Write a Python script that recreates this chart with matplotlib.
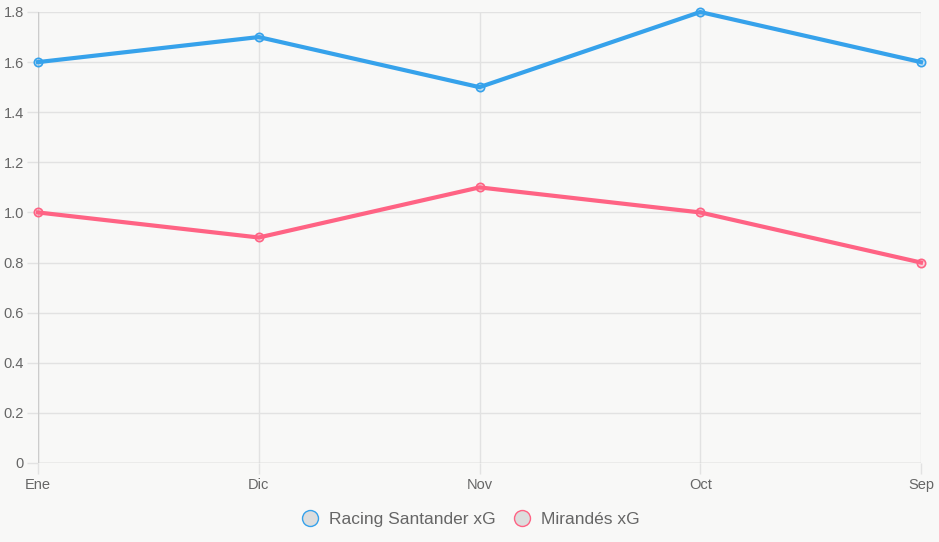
import matplotlib.pyplot as plt
from matplotlib.lines import Line2D

months = ["Ene", "Dic", "Nov", "Oct", "Sep"]
racing_xg = [1.6, 1.7, 1.5, 1.8, 1.6]
mirandes_xg = [1.0, 0.9, 1.1, 1.0, 0.8]
y_ticks = [0, 0.2, 0.4, 0.6, 0.8, 1.0, 1.2, 1.4, 1.6, 1.8]
y_labels = ["0", "0.2", "0.4", "0.6", "0.8", "1.0", "1.2", "1.4", "1.6", "1.8"]

blue = "#36a2eb"
pink = "#ff6384"
bg = "#f8f8f7"
grid = "#e2e2e2"
txt = "#666666"

plt.rcParams['font.family'] = ['Liberation Sans', 'DejaVu Sans']

fig = plt.figure(figsize=(9.39, 5.42), dpi=100, facecolor=bg)
ax = fig.add_axes([38 / 939, 1 - 463 / 542, (921 - 38) / 939, (463 - 12) / 542])
ax.set_facecolor(bg)

x = range(len(months))
ax.plot(x, racing_xg, color=blue, lw=3, marker="o", ms=6, mew=1.2,
        mfc=(0.21, 0.64, 0.92, 0.25), mec=blue, zorder=3, clip_on=False)
ax.plot(x, mirandes_xg, color=pink, lw=3, marker="o", ms=6, mew=1.2,
        mfc=(1.0, 0.39, 0.52, 0.25), mec=pink, zorder=3, clip_on=False)

ax.set_xlim(0, len(months) - 1)
ax.set_ylim(0, 1.8)
ax.set_xticks(list(x))
ax.set_xticklabels(months)
ax.set_yticks(y_ticks)
ax.set_yticklabels(y_labels)

ax.grid(True, color=grid, lw=1)
for s in ax.spines.values():
    s.set_visible(False)
ax.axhline(0, color="#cccccc", lw=1, zorder=2)
ax.axvline(0, color="#cccccc", lw=1, zorder=2)
ax.tick_params(axis="both", colors=grid, length=8, width=1, labelcolor=txt,
               labelsize=10.5)
ax.tick_params(axis="x", pad=3)
ax.tick_params(axis="y", pad=2)

handles = [
    Line2D([], [], ls="none", marker="o", ms=11.5, mfc="#dddddd", mec=blue, mew=1.0),
    Line2D([], [], ls="none", marker="o", ms=11.5, mfc="#dddddd", mec=pink, mew=1.0),
]
fig.legend(handles, ["Racing Santander xG", "Mirandés xG"], loc="center",
           bbox_to_anchor=(0.5, 1 - 519 / 542), ncol=2, frameon=False,
           fontsize=12.5, labelcolor=txt, handletextpad=0.5, columnspacing=0.9,
           handlelength=1.2)

fig.savefig("out.png", dpi=100, facecolor=bg)
